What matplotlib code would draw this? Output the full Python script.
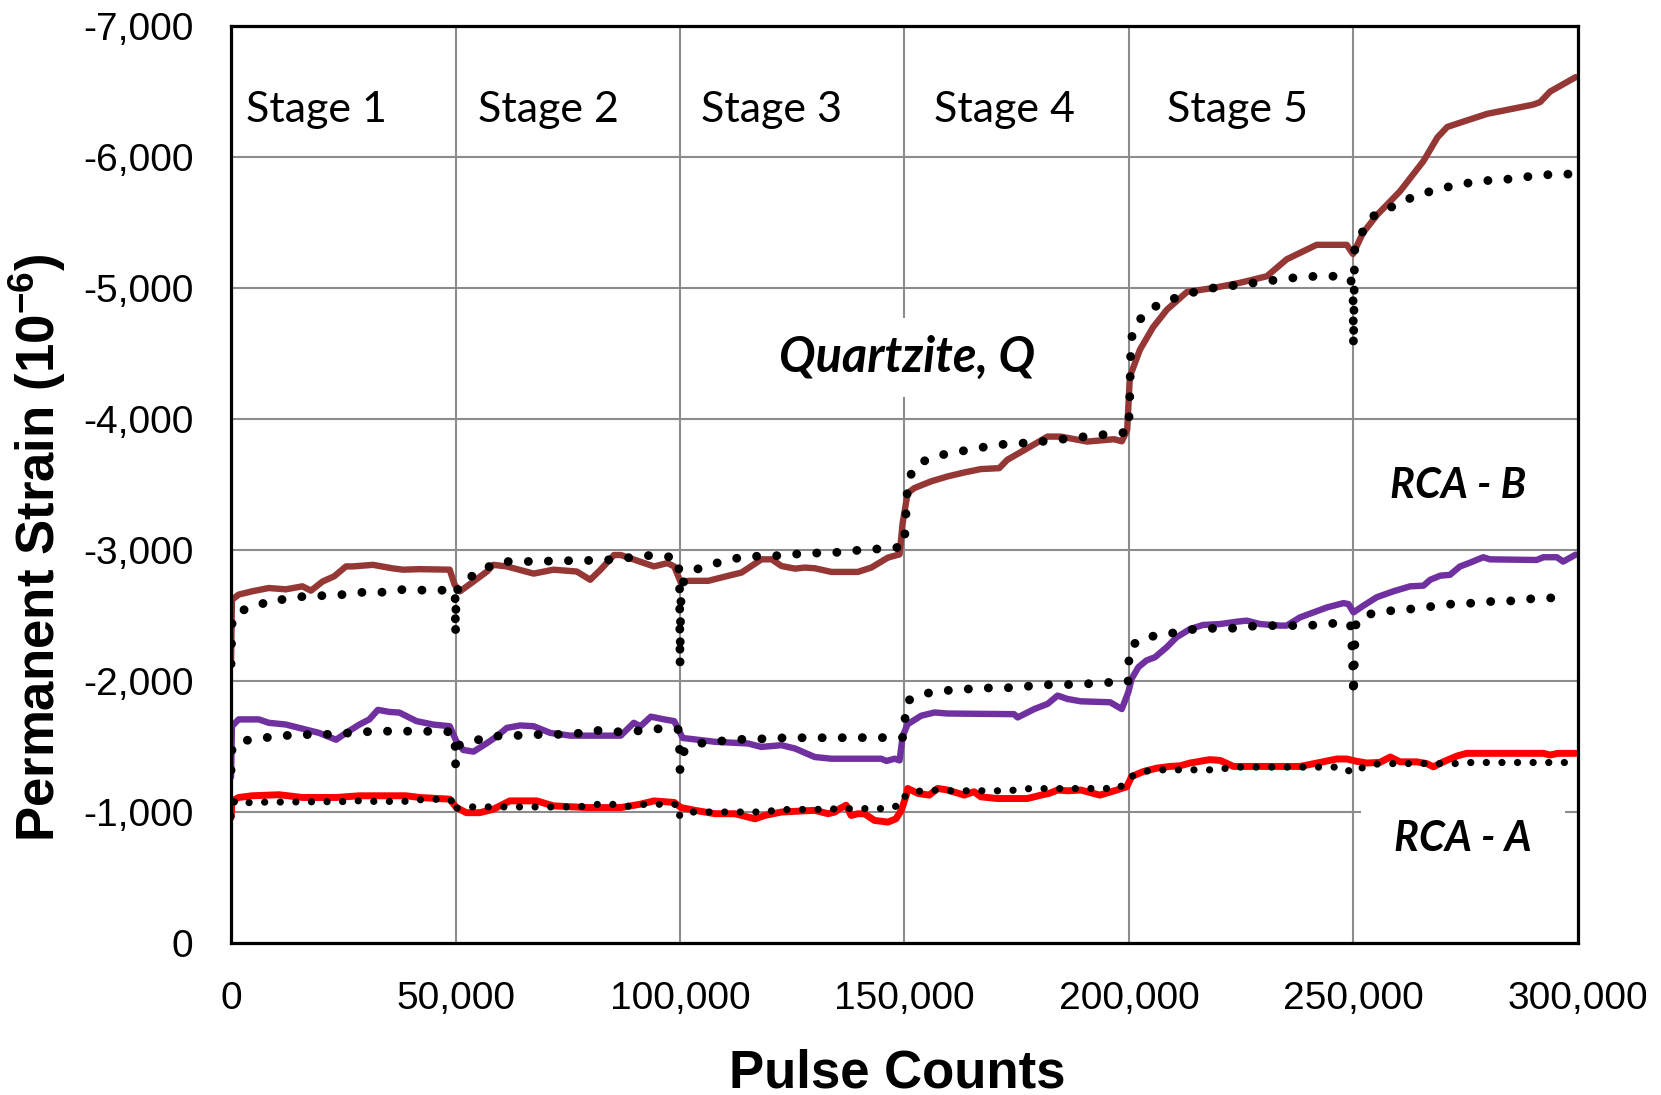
import matplotlib.pyplot as plt
from matplotlib.ticker import FuncFormatter

# measured permanent strain, Quartzite (Q)
q_meas_x = [0, 200, 1700, 4700, 8400, 12200, 15900, 17800, 20400, 23000, 25600, 27100,
            31600, 36000, 38300, 42000, 48700, 49800, 51000, 54000, 57000, 58400, 61400,
            67400, 71800, 77000, 80000, 82300, 85300, 86800, 91200, 94200, 97200, 98700,
            100200, 101850, 106300, 110700, 113700, 118150, 120400, 122600, 125600, 127800,
            130000, 133700, 139600, 142600, 146300, 148900, 149600, 150700, 152200, 155900,
            159600, 163300, 167000, 171100, 172900, 177400, 181850, 184800, 190700, 196700,
            198400, 199600, 200200, 202450, 205350, 208450, 212900, 218700, 224700, 230700,
            235150, 241800, 248500, 249900, 252100, 255300, 260400, 265600, 268700, 270900,
            275300, 279800, 290000, 291600, 293800, 299500]
q_meas_y = [-2144, -2620, -2660, -2685, -2710, -2700, -2723, -2690, -2760, -2800, -2875, -2875,
            -2887, -2860, -2850, -2854, -2850, -2735, -2685, -2760, -2836, -2887, -2875,
            -2820, -2850, -2836, -2773, -2850, -2962, -2962, -2910, -2875, -2900, -2875,
            -2750, -2765, -2765, -2803, -2828, -2929, -2929, -2878, -2858, -2866,
            -2861, -2833, -2833, -2866, -2942, -2967, -3208, -3435, -3473, -3524,
            -3562, -3592, -3618, -3625, -3689, -3777, -3866, -3866, -3828, -3846,
            -3830, -3916, -4324, -4530, -4700, -4835, -4970, -5000, -5040, -5090,
            -5220, -5330, -5330, -5260, -5420, -5560, -5740, -5970, -6150, -6230,
            -6280, -6330, -6400, -6420, -6500, -6610]

# model prediction, Quartzite (Q)
q_model_x = [0, 100, 200, 300, 1700, 3600, 5400, 7700, 8800, 11800, 16300, 20700, 25000,
             29500, 34200, 38600, 43100, 47800, 49600, 49900, 50000,
             50100, 50300, 50800, 52000, 54300, 56000, 57700, 59000, 61000, 65300, 69800,
             74100, 78600, 82900, 87400, 91800, 96500, 99300, 99700, 99900, 100000,
             100050, 100100, 100200, 100400, 101000, 101900, 103400, 106700, 108500, 110000,
             114100, 118500, 123000, 127400, 132100, 136700, 141100, 145700, 149900,
             150200, 150400, 150700, 151800, 153500, 155200, 157400, 160000, 164400, 169100,
             173300, 177800, 182200, 186900, 191300, 195800, 199700,
             200100, 200200, 200300, 200400, 200700, 202200, 204500, 207300, 210000, 214600,
             218700, 223500, 227900, 232400, 237100, 241500, 246200, 249000, 249700, 249900,
             250000, 250100, 250200, 250300, 250800, 251900, 253000, 254800, 256600, 258600,
             262200, 266300, 270800, 275200, 279600, 284100, 288800, 293300, 298000]
q_model_y = [-2131, -2282, -2420, -2484, -2516, -2560, -2577, -2597, -2622, -2622, -2647, -2652, -2660,
             -2678, -2678, -2700, -2693, -2693, -2690, -2673, -2358,
             -2597, -2685, -2723, -2773, -2811, -2830, -2880, -2895, -2912, -2912, -2915,
             -2918, -2920, -2922, -2935, -2960, -2950, -2945, -2875, -2723, -2118,
             -2295, -2433, -2600, -2723, -2777, -2800, -2850, -2884, -2904, -2916,
             -2949, -2954, -2958, -2975, -2978, -2985, -3005, -3010, -3025,
             -3182, -3334, -3486, -3618, -3663, -3694, -3719, -3739, -3765, -3795,
             -3812, -3818, -3835, -3853, -3870, -3886, -3900,
             -4050, -4210, -4375, -4540, -4640, -4750, -4840, -4880, -4920, -4970,
             -5000, -5020, -5040, -5060, -5080, -5090, -5090, -5080, -5040, -4970,
             -4560, -4800, -5130, -5300, -5370, -5420, -5500, -5560, -5600, -5620,
             -5680, -5730, -5770, -5800, -5820, -5830, -5850, -5865, -5870]

# measured permanent strain, RCA - B
b_meas_x = [0, 200, 1700, 6200, 8400, 12200, 16600, 19600, 23400, 25600, 28600, 30800, 32700,
            35300, 37500, 41300, 45000, 48700, 50200, 51700, 54000, 57000, 59200, 61400, 64400,
            67400, 71100, 75600, 86800, 89700, 91200, 93500, 96500, 98700, 100600, 101900,
            107800, 115200, 118100, 122600, 125600, 130000, 133700, 144800, 146000, 147800,
            148900, 149600, 150700, 153700, 156700, 159600, 174400, 175200, 178900, 181850,
            184100, 186300, 189300, 195800, 198400, 199850, 200600, 202100, 203900, 205800,
            208400, 210600, 213600, 216500, 220300, 224000, 226200, 229200, 233700, 235100,
            238100, 241100, 244100, 247800, 248900, 250000, 252200, 255200, 258900, 262600,
            265600, 267100, 269300, 271500, 273700, 276000, 278900, 280400, 290800, 292300,
            295300, 296700, 299500]
b_meas_y = [-1267, -1655, -1707, -1707, -1681, -1668, -1630, -1604, -1552, -1604, -1668, -1707, -1780,
            -1764, -1759, -1694, -1668, -1655, -1539, -1474, -1461, -1526, -1578, -1642, -1661,
            -1655, -1604, -1583, -1583, -1681, -1655, -1728, -1707, -1694, -1565, -1560,
            -1536, -1523, -1497, -1510, -1485, -1420, -1407, -1407, -1390, -1407,
            -1394, -1580, -1670, -1735, -1760, -1752, -1747, -1722, -1786, -1825,
            -1889, -1863, -1845, -1838, -1786, -1915, -2018, -2106, -2157, -2182,
            -2258, -2334, -2397, -2428, -2435, -2453, -2461, -2435, -2423, -2423,
            -2486, -2524, -2562, -2595, -2587, -2524, -2575, -2640, -2685, -2723,
            -2728, -2773, -2804, -2811, -2874, -2904, -2945, -2929, -2924, -2945,
            -2945, -2912, -2965]

# model prediction, RCA - B
b_model_x = [0, 100, 600, 4000, 6600, 9500, 14200, 18900, 23500, 28200, 32900, 37300, 41900,
             46500, 49500, 49900, 50000,
             50100, 50400, 51500, 55100, 57300, 59200, 62500, 67200, 71800, 76500, 80800,
             84900, 89600, 94100, 98700, 99600, 99900, 100000,
             100100, 101300, 102600, 105200, 108900, 112200, 117000, 121300, 125900, 130600,
             134800, 139600, 144200, 148900, 149800,
             150100, 150700, 152600, 155500, 158900, 161700, 166100, 170700, 175300, 180000,
             184400, 189300, 193800, 198400, 199800,
             199900, 200000, 200100, 202500, 204300, 206900, 209900, 214700, 219400, 223900,
             228500, 233100, 237700, 242200, 246300, 249300, 249500, 249600, 249700,
             249800, 250000, 250400, 250700, 253700, 256700, 259300, 263400, 268000,
             272400, 277100, 281500, 286200, 290700, 295100, 298000]
b_model_y = [-1319, -1461, -1513, -1552, -1565, -1573, -1591, -1591, -1595, -1610, -1617, -1617, -1617,
             -1615, -1612, -1521, -1358,
             -1474, -1500, -1526, -1552, -1578, -1580, -1582, -1591, -1592, -1595, -1625,
             -1612, -1615, -1635, -1635, -1630, -1474, -1322,
             -1435, -1474, -1503, -1529, -1541, -1554, -1556, -1565, -1567, -1567,
             -1567, -1568, -1568, -1568, -1570,
             -1709, -1851, -1876, -1910, -1928, -1930, -1946, -1948, -1950, -1972,
             -1972, -1975, -1987, -1992, -1995,
             -2089, -2175, -2251, -2322, -2330, -2360, -2367, -2397, -2403, -2403,
             -2423, -2423, -2423, -2428, -2443, -2440, -2372, -2322, -2233,
             -2170, -1889, -2397, -2461, -2511, -2534, -2538, -2552, -2572,
             -2590, -2595, -2610, -2612, -2633, -2635, -2638]

# measured permanent strain, RCA - A
a_meas_x = [0, 200, 1700, 4700, 10700, 15900, 23400, 28600, 39000, 42000, 48700, 50200, 52400,
            55400, 58400, 62100, 68100, 71800, 79300, 86800, 91200, 94200, 98700, 100200,
            103300, 107800, 112200, 115200, 116700, 118900, 122600, 130000, 133000, 134500,
            135600, 137000, 138100, 139600, 141100, 143300, 146300, 148100, 149300, 150400,
            150700, 153000, 155500, 157400, 159600, 163300, 165500, 167000, 170700, 177400,
            180400, 182200, 184100, 186300, 189300, 193500, 197300, 199500, 200600, 203200,
            206200, 209100, 211400, 213600, 218000, 220300, 223300, 233700, 238100, 242600,
            246300, 248500, 250700, 253000, 255900, 258200, 260400, 264100, 266300, 267800,
            270000, 273000, 275200, 292300, 293800, 295500, 299500]
a_meas_y = [-956, -1085, -1111, -1124, -1132, -1111, -1111, -1124, -1124, -1111, -1098, -1034, -995,
            -995, -1021, -1085, -1085, -1047, -1034, -1034, -1060, -1085, -1073, -1034,
            -1013, -987, -987, -961, -948, -974, -1000, -1013, -987, -1000,
            -1026, -1052, -974, -987, -987, -936, -923, -948, -1013, -1129,
            -1180, -1142, -1129, -1180, -1168, -1129, -1155, -1116, -1103, -1103,
            -1129, -1142, -1168, -1162, -1168, -1129, -1168, -1193, -1271, -1309,
            -1335, -1348, -1353, -1374, -1400, -1394, -1348, -1348, -1348, -1379,
            -1405, -1405, -1387, -1374, -1379, -1420, -1383, -1383, -1370, -1345,
            -1383, -1427, -1448, -1448, -1435, -1448, -1448]

# model prediction, RCA - A
a_model_x = [0, 100, 1000, 2500, 4700, 26000, 29300, 32300, 39400, 42700, 48500, 49600, 50000,
             50200, 52800, 77600, 81000, 86000, 88000, 91500, 98500, 99600, 99800,
             100400, 118700, 122100, 132600, 136100, 146700, 149600,
             149900, 152200, 155800, 159300, 173300, 176700, 197800,
             199900, 202300, 205600, 219600, 223100, 247600, 249900,
             252200, 255200, 259000, 273000, 276300, 297600]
a_model_y = [-969, -1060, -1085, -1065, -1075, -1080, -1088, -1080, -1082, -1096, -1098, -1075, -1008,
             -1030, -1039, -1039, -1058, -1058, -1042, -1058, -1060, -1055, -969,
             -1000, -1000, -1018, -1021, -1026, -1026, -1064,
             -1116, -1155, -1168, -1162, -1162, -1178, -1180,
             -1258, -1302, -1322, -1322, -1343, -1343, -1296,
             -1343, -1366, -1370, -1370, -1378, -1378]

x_ticks = [0, 50000, 100000, 150000, 200000, 250000, 300000]
y_ticks = [0, -1000, -2000, -3000, -4000, -5000, -6000, -7000]
stage_labels = ['Stage 1', 'Stage 2', 'Stage 3', 'Stage 4', 'Stage 5']
stage_x = [3300, 55000, 104700, 156600, 208500]

plt.rcParams['mathtext.fontset'] = 'custom'
plt.rcParams['mathtext.rm'] = 'Liberation Sans'
plt.rcParams['mathtext.bf'] = 'Liberation Sans:bold'

fig = plt.figure(figsize=(16.61, 10.95), dpi=100)
ax = fig.add_axes([0.1391, 0.1388, 0.8109, 0.8374])

dot = dict(color='black', dash_capstyle='round')
ax.plot(q_meas_x, q_meas_y, color='#953735', lw=4.6, solid_joinstyle='round',
        solid_capstyle='round', zorder=2)
ax.plot(b_meas_x, b_meas_y, color='#7030A0', lw=4.6, solid_joinstyle='round',
        solid_capstyle='round', zorder=2)
ax.plot(a_meas_x, a_meas_y, color='#FF0000', lw=5.0, solid_joinstyle='round',
        solid_capstyle='round', zorder=2)
ax.plot(q_model_x, q_model_y, lw=6.4, linestyle=(0, (0.01, 2.25)), zorder=3, **dot)
ax.plot(b_model_x, b_model_y, lw=6.4, linestyle=(0, (0.01, 2.25)), zorder=3, **dot)
ax.plot(a_model_x, a_model_y, lw=5.2, linestyle=(0, (0.01, 2.15)), zorder=3, **dot)

ax.set_xlim(0, 300000)
ax.set_ylim(0, -7000)
ax.set_xticks(x_ticks)
ax.set_yticks(y_ticks)
fmt = FuncFormatter(lambda v, p: f'{int(v):,}')
ax.xaxis.set_major_formatter(fmt)
ax.yaxis.set_major_formatter(fmt)
ax.tick_params(length=0, labelsize=28, pad=27)
for lab in ax.get_xticklabels() + ax.get_yticklabels():
    lab.set_fontfamily('Liberation Sans')

ax.set_axisbelow(True)
ax.grid(True, color='#8c8c8c', lw=1.5)
for sp in ax.spines.values():
    sp.set_linewidth(2.3)
    sp.set_color('black')

for lab, xs in zip(stage_labels, stage_x):
    ax.text(xs, -6267, lab, fontsize=31, fontfamily='Lato', va='baseline', ha='left')

ax.text(150600, -4359, 'Quartzite, Q', fontsize=35, fontfamily='Lato', style='italic',
        weight='bold', ha='center', va='baseline', zorder=1.5,
        bbox=dict(boxstyle='square,pad=0.35', fc='white', ec='none'))
ax.text(273300, -3397, 'RCA - B', fontsize=30, fontfamily='Lato', style='italic',
        weight='bold', ha='center', va='baseline')
ax.text(274400, -702, 'RCA - A', fontsize=30, fontfamily='Lato', style='italic',
        weight='bold', ha='center', va='baseline', zorder=1.5,
        bbox=dict(boxstyle='square,pad=0.8', fc='white', ec='none'))

fig.text(897 / 1661, 1 - 1087 / 1095, 'Pulse Counts', fontsize=38, fontfamily='Liberation Sans',
         weight='bold', ha='center', va='baseline')
fig.text(37 / 1661, 1 - 548 / 1095, r'Permanent Strain (10$^{\mathbf{-6}}$)', fontsize=38,
         fontfamily='Liberation Sans', weight='bold', rotation=90, ha='center', va='center')

fig.savefig('out.png', dpi=100)
